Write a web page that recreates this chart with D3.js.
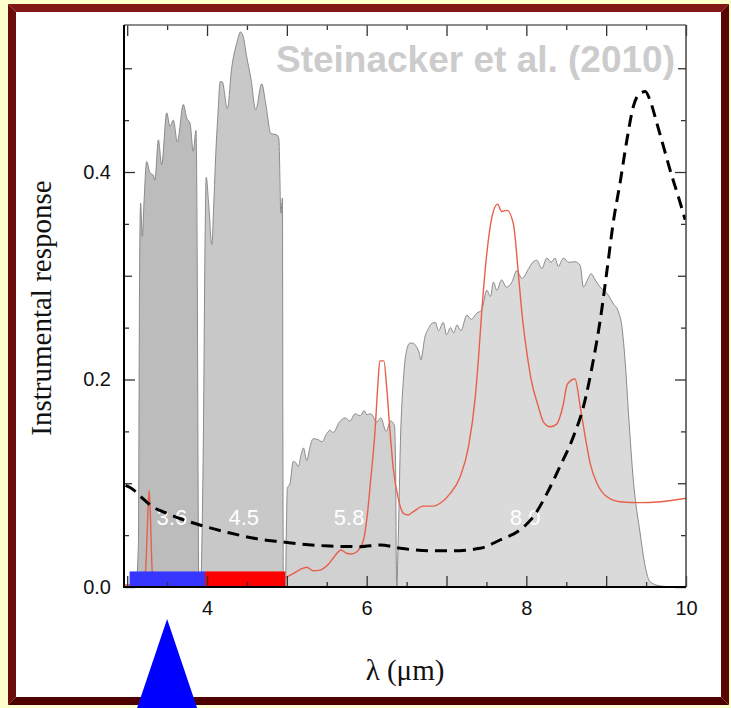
<!DOCTYPE html>
<html>
<head>
<meta charset="utf-8">
<script src="https://cdn.jsdelivr.net/npm/d3@7"></script>
<style>
  body { margin: 0; background: #ffffcc; }
  svg { display: block; }
</style>
</head>
<body>
<div id="chart"></div>
<script>
// IRAC filter responses (wavelength in micron, response)
var band36 = [[3.11,0],[3.14,0.04],[3.155,0.30],[3.168,0.37],[3.19,0.338],[3.21,0.37],[3.244,0.41],[3.286,0.399],[3.327,0.397],[3.348,0.392],[3.39,0.431],[3.432,0.407],[3.495,0.457],[3.536,0.444],[3.578,0.450],[3.628,0.429],[3.703,0.465],[3.746,0.452],[3.787,0.447],[3.828,0.420],[3.862,0.440],[3.878,0.30],[3.888,0.10],[3.895,0]];
var band45 = [[3.925,0],[3.955,0.15],[3.975,0.33],[3.99,0.395],[4.02,0.37],[4.06,0.33],[4.085,0.37],[4.11,0.418],[4.14,0.46],[4.163,0.487],[4.19,0.487],[4.255,0.461],[4.31,0.501],[4.372,0.524],[4.42,0.535],[4.455,0.530],[4.497,0.511],[4.55,0.490],[4.61,0.460],[4.685,0.485],[4.735,0.466],[4.80,0.437],[4.87,0.436],[4.90,0.432],[4.925,0.36],[4.945,0.375],[4.95,0.15],[4.955,0]];
var band58 = [[4.985,0],[4.995,0.06],[5.007,0.095],[5.04,0.10],[5.08,0.121],[5.11,0.12],[5.144,0.116],[5.18,0.128],[5.207,0.134],[5.25,0.122],[5.29,0.135],[5.33,0.143],[5.395,0.142],[5.44,0.14],[5.50,0.148],[5.54,0.151],[5.58,0.149],[5.66,0.159],[5.73,0.163],[5.79,0.16],[5.855,0.167],[5.92,0.165],[5.968,0.170],[6.00,0.166],[6.05,0.167],[6.127,0.159],[6.177,0.163],[6.243,0.150],[6.30,0.160],[6.347,0.156],[6.362,0.119],[6.37,0.03],[6.375,0]];
var band80 = [[6.38,0],[6.40,0.06],[6.42,0.132],[6.46,0.20],[6.50,0.228],[6.54,0.235],[6.578,0.235],[6.62,0.232],[6.66,0.225],[6.678,0.219],[6.73,0.241],[6.78,0.25],[6.816,0.254],[6.86,0.255],[6.90,0.247],[6.96,0.255],[7.0,0.243],[7.05,0.25],[7.09,0.245],[7.13,0.2525],[7.18,0.247],[7.255,0.262],[7.31,0.258],[7.38,0.264],[7.44,0.267],[7.505,0.286],[7.55,0.28],[7.588,0.294],[7.63,0.286],[7.69,0.296],[7.75,0.289],[7.82,0.294],[7.88,0.305],[7.944,0.2975],[8.03,0.307],[8.07,0.312],[8.13,0.315],[8.194,0.307],[8.257,0.317],[8.31,0.313],[8.36,0.317],[8.40,0.309],[8.465,0.317],[8.53,0.313],[8.61,0.3135],[8.674,0.310],[8.716,0.289],[8.76,0.295],[8.81,0.302],[8.862,0.296],[8.925,0.289],[9.01,0.283],[9.09,0.273],[9.155,0.265],[9.197,0.251],[9.24,0.215],[9.28,0.167],[9.34,0.103],[9.425,0.052],[9.49,0.0196],[9.55,0.005],[9.68,0.001],[9.87,0]];

var bandNames = ["3.6", "4.5", "5.8", "8.0"];
var bandCenters = [3.56, 4.46, 5.78, 7.985];

// source spectrum (red) and ice absorption profile (dashed)
var spectrum = [[2.96,0.002],[3.15,0.002],[3.21,0.004],[3.24,0.03],[3.26,0.075],[3.275,0.093],[3.29,0.07],[3.31,0.02],[3.33,0.004],[3.5,0.003],[4.0,0.003],[4.5,0.004],[4.8,0.006],[4.96,0.0084],[5.08,0.013],[5.17,0.017],[5.25,0.019],[5.33,0.0157],[5.40,0.016],[5.46,0.018],[5.52,0.022],[5.58,0.0277],[5.68,0.0357],[5.75,0.0325],[5.81,0.0318],[5.86,0.033],[5.90,0.036],[5.96,0.0453],[6.01,0.071],[6.05,0.103],[6.105,0.151],[6.14,0.195],[6.165,0.218],[6.215,0.218],[6.25,0.193],[6.29,0.152],[6.335,0.113],[6.40,0.084],[6.46,0.071],[6.52,0.0694],[6.585,0.0726],[6.71,0.078],[6.836,0.078],[6.92,0.0807],[7.045,0.090],[7.17,0.106],[7.275,0.135],[7.36,0.183],[7.40,0.22],[7.44,0.264],[7.505,0.3216],[7.57,0.357],[7.64,0.369],[7.69,0.362],[7.76,0.363],[7.84,0.349],[7.90,0.302],[7.95,0.26],[7.99,0.235],[8.06,0.2],[8.15,0.174],[8.215,0.159],[8.30,0.1545],[8.38,0.157],[8.457,0.174],[8.515,0.1957],[8.61,0.2005],[8.674,0.174],[8.737,0.145],[8.80,0.119],[8.884,0.10],[9.01,0.087],[9.175,0.0822],[9.425,0.0813],[9.68,0.0822],[10,0.0855]];
var absorption = [[2.98,0.098],[3.056,0.095],[3.2,0.085],[3.327,0.077],[3.5,0.071],[3.66,0.066],[3.91,0.0598],[4.29,0.052],[4.664,0.046],[4.915,0.0437],[5.165,0.0414],[5.54,0.0395],[5.92,0.0389],[6.17,0.0405],[6.42,0.0373],[6.795,0.035],[7.087,0.035],[7.42,0.0373],[7.67,0.0453],[7.92,0.055],[8.09,0.068],[8.257,0.090],[8.42,0.116],[8.59,0.145],[8.716,0.174],[8.84,0.219],[8.925,0.257],[9.01,0.305],[9.09,0.352],[9.175,0.39],[9.26,0.431],[9.34,0.463],[9.425,0.476],[9.49,0.4775],[9.55,0.469],[9.635,0.447],[9.72,0.424],[9.80,0.402],[9.905,0.376],[9.99,0.354]];

// coloured wavelength ranges on the floor of the plot + marker
var rangeBlue = [3.03, 3.975];
var rangeRed = [3.975, 4.98];
var rangeHeight = 0.015;
var markerWavelength = 3.5;

// ticks
var xTickLabels = [4, 6, 8, 10];
var xMajorTicks = [3, 4, 5, 6, 7, 8, 9, 10];
var xMinorTicks = [3.5, 4.5, 5.5, 6.5, 7.5, 8.5, 9.5];
var yTickLabels = [0.0, 0.2, 0.4];
var yTicks = [0, 0.05, 0.1, 0.15, 0.2, 0.25, 0.3, 0.35, 0.4, 0.45, 0.5];

var W = 731, H = 708;
var pLeft = 124, pRight = 686, pTop = 25, pBottom = 587;

var svg = d3.select("#chart").append("svg")
    .attr("width", W)
    .attr("height", H);

/** frame: yellow page, bevelled dark red border, white panel */
var fx0 = 8, fy0 = 4, fx1 = 729, fy1 = 705, bw = 8;
svg.append("rect").attr("width", W).attr("height", H).style("fill", "#ffffcc");
svg.append("polygon")
  .attr("points", [[fx0,fy0],[fx1,fy0],[fx1-bw,fy0+bw],[fx0+bw,fy0+bw]].join(" "))
  .style("fill", "#811717");
svg.append("polygon")
  .attr("points", [[fx0,fy0],[fx0+bw,fy0+bw],[fx0+bw,fy1-bw],[fx0,fy1]].join(" "))
  .style("fill", "#6c0c0c");
svg.append("polygon")
  .attr("points", [[fx1,fy0],[fx1,fy1],[fx1-bw,fy1-bw],[fx1-bw,fy0+bw]].join(" "))
  .style("fill", "#590303");
svg.append("polygon")
  .attr("points", [[fx0,fy1],[fx1,fy1],[fx1-bw,fy1-bw],[fx0+bw,fy1-bw]].join(" "))
  .style("fill", "#4e0000");
svg.append("rect")
  .attr("x", fx0 + bw).attr("y", fy0 + bw)
  .attr("width", fx1 - fx0 - 2 * bw).attr("height", fy1 - fy0 - 2 * bw)
  .style("fill", "#ffffff");

// scales
var x = d3.scaleLinear().domain([2.96, 10]).range([pLeft, pRight]);
var y = d3.scaleLinear().domain([0, 0.5417]).range([pBottom, pTop]);

var plot = svg.append("g");

plot.append("clipPath").attr("id", "clip")
  .append("rect")
  .attr("x", pLeft).attr("y", pTop)
  .attr("width", pRight - pLeft).attr("height", pBottom - pTop);

var area = d3.area()
    .x(d => x(d[0]))
    .y0(y(0))
    .y1(d => y(d[1]))
    .curve(d3.curveMonotoneX);

/** filter bands */
var bands = [
  {pts: band80, fill: "#dadada"},
  {pts: band58, fill: "#d1d1d1"},
  {pts: band45, fill: "#c8c8c8"},
  {pts: band36, fill: "#bcbcbc"}
];
plot.append("g").attr("clip-path", "url(#clip)")
  .selectAll("path")
  .data(bands)
  .enter()
  .append("path")
  .attr("d", b => area(b.pts))
  .style("fill", b => b.fill)
  .style("stroke", "#8a8a8a")
  .style("stroke-width", 1)
  .style("stroke-linejoin", "round");

/** band names */
plot.append("g")
  .selectAll("text")
  .data(bandNames)
  .enter()
  .append("text")
  .attr("x", (d, i) => x(bandCenters[i]))
  .attr("y", y(0.06))
  .style("text-anchor", "middle")
  .style("font-family", "'Liberation Sans', Arial, sans-serif")
  .style("font-size", "22px")
  .style("fill", "#ffffff")
  .text(d => d);

var line = d3.line()
    .x(d => x(d[0]))
    .y(d => y(d[1]))
    .curve(d3.curveMonotoneX);

/** red spectrum */
plot.append("path")
  .attr("clip-path", "url(#clip)")
  .attr("d", line(spectrum))
  .style("fill", "none")
  .style("stroke", "#e8604a")
  .style("stroke-width", 1.4);

/** dashed profile */
plot.append("path")
  .attr("clip-path", "url(#clip)")
  .attr("d", line(absorption))
  .style("fill", "none")
  .style("stroke", "#000000")
  .style("stroke-width", 3)
  .style("stroke-dasharray", "12,7");

/** wavelength ranges */
plot.append("rect")
  .attr("x", x(rangeBlue[0]))
  .attr("y", y(rangeHeight))
  .attr("width", x(rangeBlue[1]) - x(rangeBlue[0]))
  .attr("height", y(0) - y(rangeHeight))
  .style("fill", "#3636ff");
plot.append("rect")
  .attr("x", x(rangeRed[0]))
  .attr("y", y(rangeHeight))
  .attr("width", x(rangeRed[1]) - x(rangeRed[0]))
  .attr("height", y(0) - y(rangeHeight))
  .style("fill", "#ff0000");

// axes: all ticks point inward
var tickFont = "'Liberation Sans', Arial, sans-serif";

var xMinor = d3.axisBottom(x).tickValues(xMinorTicks).tickSize(-5).tickSizeOuter(0).tickFormat("");
var xMajor = d3.axisBottom(x).tickValues(xMajorTicks).tickSize(-11).tickSizeOuter(0)
    .tickPadding(14)
    .tickFormat(d => xTickLabels.indexOf(d) > -1 ? d : "");
var xTopMinor = d3.axisTop(x).tickValues(xMinorTicks).tickSize(-5).tickSizeOuter(0).tickFormat("");
var xTopMajor = d3.axisTop(x).tickValues(xMajorTicks).tickSize(-11).tickSizeOuter(0).tickFormat("");

var yLen = d => (Math.round(d * 100) % 20 === 0) ? 11 : (Math.round(d * 100) % 10 === 0 ? 8 : 5);

function drawAxis(axis, tx, ty) {
  var g = svg.append("g")
    .attr("transform", "translate(" + tx + "," + ty + ")")
    .call(axis);
  g.select(".domain").remove();
  g.selectAll(".tick line").style("stroke", "#333").style("stroke-width", 1.3);
  g.selectAll(".tick text")
    .style("fill", "#111")
    .style("font-family", tickFont)
    .style("font-size", "20px");
  return g;
}

drawAxis(xMinor, 0, pBottom);
drawAxis(xMajor, 0, pBottom);
drawAxis(xTopMinor, 0, pTop);
drawAxis(xTopMajor, 0, pTop);

var yLeft = drawAxis(d3.axisLeft(y).tickValues(yTicks).tickSizeOuter(0).tickPadding(7)
    .tickFormat(d => yTickLabels.indexOf(d) > -1 ? d3.format(".1f")(d) : ""), pLeft, 0);
yLeft.selectAll(".tick line").attr("x2", d => yLen(d));
var yRight = drawAxis(d3.axisRight(y).tickValues(yTicks).tickSizeOuter(0).tickFormat(""), pRight, 0);
yRight.selectAll(".tick line").attr("x2", d => -yLen(d));

/** plot border */
svg.append("line").attr("x1", pLeft).attr("x2", pRight).attr("y1", pTop).attr("y2", pTop)
  .style("stroke", "#666").style("stroke-width", 1.5);
svg.append("line").attr("x1", pRight).attr("x2", pRight).attr("y1", pTop).attr("y2", pBottom)
  .style("stroke", "#444").style("stroke-width", 1.5);
svg.append("line").attr("x1", pLeft).attr("x2", pLeft).attr("y1", pTop).attr("y2", pBottom + 1)
  .style("stroke", "#000").style("stroke-width", 2);
svg.append("line").attr("x1", pLeft - 1).attr("x2", pRight).attr("y1", pBottom).attr("y2", pBottom)
  .style("stroke", "#000").style("stroke-width", 2);

/** axis titles */
svg.append("text")
  .attr("x", (pLeft + pRight) / 2)
  .attr("y", 680)
  .style("text-anchor", "middle")
  .style("font-family", "'Liberation Serif', 'Times New Roman', serif")
  .style("font-size", "29px")
  .style("fill", "#111")
  .text("λ (μm)");

svg.append("text")
  .attr("transform", "translate(51," + ((pTop + pBottom) / 2 + 2) + ") rotate(-90)")
  .style("text-anchor", "middle")
  .style("font-family", "'Liberation Serif', 'Times New Roman', serif")
  .style("font-size", "29px")
  .style("fill", "#111")
  .text("Instrumental response");

/** citation */
svg.append("text")
  .attr("x", 675)
  .attr("y", 72)
  .style("text-anchor", "end")
  .style("font-family", "'Liberation Sans', Arial, sans-serif")
  .style("font-weight", "bold")
  .style("font-size", "37px")
  .style("fill", "#cccccc")
  .text("Steinacker et al. (2010)");

/** blue marker below the axis */
var mx = x(markerWavelength);
svg.append("polygon")
  .attr("points", [[mx, 619], [mx - 30, 708], [mx + 30, 708]].join(" "))
  .style("fill", "#0000ff");
</script>
</body>
</html>
